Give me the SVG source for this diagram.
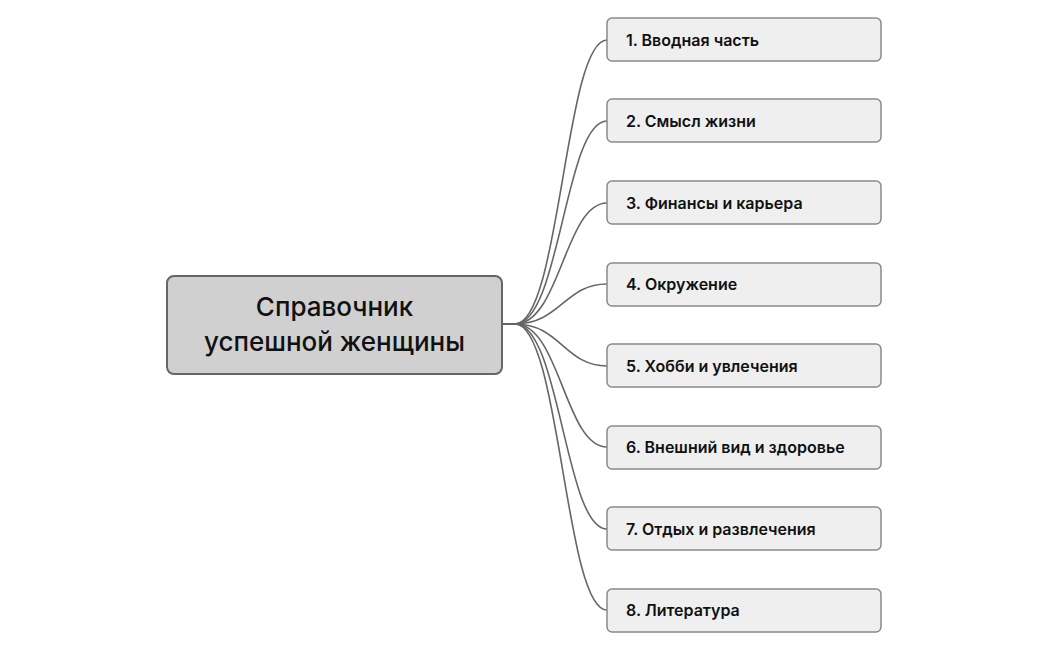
<svg xmlns="http://www.w3.org/2000/svg" width="1049" height="650" viewBox="0 0 1049 650">
<style>
.n rect{fill:#efefef;stroke:#8a8a8a;stroke-width:1.5}
.n text{font-family:Inter,"Noto Sans",sans-serif;font-weight:600;font-size:16px;fill:#111}
.c path{fill:none;stroke:#666;stroke-width:1.6}
</style>
<rect width="1049" height="650" fill="#fff"/>
<g class="c">
<path d="M502,324 H515 C560,324 565,40 607,40"/>
<path d="M502,324 H515 C560,324 565,121 607,121"/>
<path d="M502,324 H515 C560,324 565,203 607,203"/>
<path d="M502,324 H515 C560,324 565,284 607,284"/>
<path d="M502,324 H515 C560,324 565,366 607,366"/>
<path d="M502,324 H515 C560,324 565,447 607,447"/>
<path d="M502,324 H515 C560,324 565,529 607,529"/>
<path d="M502,324 H515 C560,324 565,610 607,610"/>
</g>
<g id="root"><rect x="167" y="276" width="335" height="98" rx="7" fill="#d0d0d0" stroke="#666" stroke-width="2"/>
<text x="334.5" y="316" text-anchor="middle" font-family="Inter,'Noto Sans',sans-serif" font-weight="500" font-size="26" fill="#111">Справочник</text>
<text x="334.5" y="351" text-anchor="middle" font-family="Inter,'Noto Sans',sans-serif" font-weight="500" font-size="26" fill="#111">успешной женщины</text></g>
<g id="n1" class="n"><rect x="607" y="18" width="274" height="43" rx="5"/><text x="626" y="46">1. Вводная часть</text></g>
<g id="n2" class="n"><rect x="607" y="99" width="274" height="43" rx="5"/><text x="626" y="127">2. Смысл жизни</text></g>
<g id="n3" class="n"><rect x="607" y="181" width="274" height="43" rx="5"/><text x="626" y="209">3. Финансы и карьера</text></g>
<g id="n4" class="n"><rect x="607" y="263" width="274" height="43" rx="5"/><text x="626" y="290">4. Окружение</text></g>
<g id="n5" class="n"><rect x="607" y="344" width="274" height="43" rx="5"/><text x="626" y="372">5. Хобби и увлечения</text></g>
<g id="n6" class="n"><rect x="607" y="426" width="274" height="43" rx="5"/><text x="626" y="453">6. Внешний вид и здоровье</text></g>
<g id="n7" class="n"><rect x="607" y="507" width="274" height="43" rx="5"/><text x="626" y="535">7. Отдых и развлечения</text></g>
<g id="n8" class="n"><rect x="607" y="589" width="274" height="43" rx="5"/><text x="626" y="616">8. Литература</text></g>
</svg>
